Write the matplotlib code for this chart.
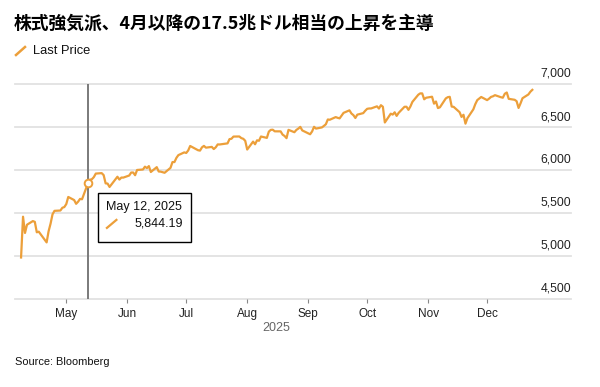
import matplotlib
matplotlib.use('Agg')
import matplotlib.pyplot as plt
import matplotlib.dates as mdates
from matplotlib.lines import Line2D
from matplotlib.patches import Rectangle
import pandas as pd

plt.rcParams['font.family'] = ['Liberation Sans', 'Noto Sans CJK JP', 'DejaVu Sans']

title = '株式強気派、4月以降の17.5兆ドル相当の上昇を主導'
series_name = 'Last Price'
source_note = 'Source: Bloomberg'
year_label = '2025'

# daily closes
dates = [
    '2025-04-08', '2025-04-09', '2025-04-10', '2025-04-11', '2025-04-14', '2025-04-15', '2025-04-16', '2025-04-17',
    '2025-04-21', '2025-04-22', '2025-04-23', '2025-04-24', '2025-04-25', '2025-04-28', '2025-04-29', '2025-04-30',
    '2025-05-01', '2025-05-02', '2025-05-05', '2025-05-06', '2025-05-07', '2025-05-08', '2025-05-09', '2025-05-12',
    '2025-05-13', '2025-05-14', '2025-05-15', '2025-05-16', '2025-05-19', '2025-05-20', '2025-05-21', '2025-05-22',
    '2025-05-23', '2025-05-27', '2025-05-28', '2025-05-29', '2025-05-30',
    '2025-06-02', '2025-06-03', '2025-06-04', '2025-06-05', '2025-06-06', '2025-06-09', '2025-06-10', '2025-06-11',
    '2025-06-12', '2025-06-13', '2025-06-16', '2025-06-17', '2025-06-18', '2025-06-20', '2025-06-23', '2025-06-24',
    '2025-06-25', '2025-06-26', '2025-06-27', '2025-06-30',
    '2025-07-01', '2025-07-02', '2025-07-03', '2025-07-07', '2025-07-08', '2025-07-09', '2025-07-10', '2025-07-11',
    '2025-07-14', '2025-07-15', '2025-07-16', '2025-07-17', '2025-07-18', '2025-07-21', '2025-07-22', '2025-07-23',
    '2025-07-24', '2025-07-25', '2025-07-28', '2025-07-29', '2025-07-30', '2025-07-31',
    '2025-08-01', '2025-08-04', '2025-08-05', '2025-08-06', '2025-08-07', '2025-08-08', '2025-08-11', '2025-08-12',
    '2025-08-13', '2025-08-14', '2025-08-15', '2025-08-18', '2025-08-19', '2025-08-20', '2025-08-21', '2025-08-22',
    '2025-08-25', '2025-08-26', '2025-08-27', '2025-08-28', '2025-08-29',
    '2025-09-02', '2025-09-03', '2025-09-04', '2025-09-05', '2025-09-08', '2025-09-09', '2025-09-10', '2025-09-11',
    '2025-09-12', '2025-09-15', '2025-09-16', '2025-09-17', '2025-09-18', '2025-09-19', '2025-09-22', '2025-09-23',
    '2025-09-24', '2025-09-25', '2025-09-26', '2025-09-29', '2025-09-30',
    '2025-10-01', '2025-10-02', '2025-10-03', '2025-10-06', '2025-10-07', '2025-10-08', '2025-10-09', '2025-10-10',
    '2025-10-13', '2025-10-14', '2025-10-15', '2025-10-16', '2025-10-17', '2025-10-20', '2025-10-21', '2025-10-22',
    '2025-10-23', '2025-10-24', '2025-10-27', '2025-10-28', '2025-10-29', '2025-10-30', '2025-10-31',
    '2025-11-03', '2025-11-04', '2025-11-05', '2025-11-06', '2025-11-07', '2025-11-10', '2025-11-11', '2025-11-12',
    '2025-11-13', '2025-11-14', '2025-11-17', '2025-11-18', '2025-11-19', '2025-11-20', '2025-11-21', '2025-11-24',
    '2025-11-25', '2025-11-26', '2025-11-28',
    '2025-12-01', '2025-12-02', '2025-12-03', '2025-12-04', '2025-12-05', '2025-12-08', '2025-12-09', '2025-12-10',
    '2025-12-11', '2025-12-12', '2025-12-15', '2025-12-16', '2025-12-17', '2025-12-18', '2025-12-19', '2025-12-22',
    '2025-12-23', '2025-12-24',
]

prices = [
    4982.77, 5456.90, 5268.05, 5363.36, 5405.97, 5396.63, 5275.70, 5282.70,
    5158.20, 5287.76, 5375.86, 5484.77, 5525.21, 5528.75, 5560.83, 5569.06,
    5604.14, 5686.67, 5650.38, 5606.91, 5631.28, 5663.94, 5659.91, 5844.19,
    5886.55, 5892.58, 5916.93, 5958.38, 5963.60, 5940.46, 5844.61, 5842.01,
    5802.82, 5921.54, 5888.55, 5912.17, 5911.69,
    5935.94, 5970.37, 5970.81, 5939.30, 6000.36, 6005.88, 6038.81, 6022.24,
    6045.26, 5976.97, 6033.11, 5982.72, 5980.87, 5967.84, 6025.17, 6092.18,
    6092.16, 6141.02, 6173.07, 6204.95,
    6198.01, 6227.42, 6279.35, 6229.98, 6225.52, 6263.26, 6280.46, 6259.75,
    6268.56, 6243.76, 6263.70, 6297.36, 6296.79, 6305.60, 6309.62, 6358.91,
    6363.35, 6388.64, 6389.77, 6370.86, 6362.90, 6339.39,
    6238.01, 6329.94, 6299.19, 6345.06, 6340.00, 6389.45, 6373.45, 6445.76,
    6466.58, 6468.54, 6449.80, 6449.15, 6411.37, 6395.78, 6370.17, 6466.91,
    6439.32, 6465.94, 6481.40, 6501.86, 6460.26,
    6415.54, 6448.26, 6502.08, 6481.50, 6495.15, 6512.61, 6532.04, 6587.47,
    6584.29, 6615.28, 6606.76, 6600.35, 6631.96, 6664.36, 6693.75, 6656.92,
    6637.97, 6604.72, 6643.70, 6661.21, 6688.46,
    6711.20, 6715.35, 6715.79, 6740.28, 6714.59, 6753.72, 6735.11, 6552.51,
    6654.72, 6644.31, 6671.06, 6629.07, 6664.01, 6735.13, 6735.35, 6699.40,
    6738.44, 6791.69, 6875.16, 6890.89, 6890.59, 6822.34, 6840.20,
    6851.97, 6771.55, 6796.29, 6720.32, 6728.80, 6832.43, 6846.61, 6850.92,
    6737.49, 6734.11, 6672.41, 6617.32, 6642.16, 6538.76, 6602.99, 6705.12,
    6765.88, 6812.61, 6849.09,
    6812.63, 6829.37, 6849.72, 6857.12, 6870.40, 6846.51, 6840.51, 6886.68,
    6901.00, 6827.41, 6816.51, 6800.26, 6721.43, 6774.76, 6834.50, 6878.49,
    6909.79, 6932.05,
]

hover_date = '2025-05-12'
y_ticks = [4500, 5000, 5500, 6000, 6500, 7000]

ORANGE = '#EC9F3A'
GRID = '#E2E2E2'
W, H = 600, 387


def px(x, y):
    """pixel position (from top-left) -> figure fraction"""
    return x / W, 1 - y / H


df = pd.DataFrame({'price': prices}, index=pd.to_datetime(dates))

fig = plt.figure(figsize=(6, 3.87), dpi=100)
ax = fig.add_axes([15 / W, 1 - 299 / H, 556 / W, 215 / H])

ax.plot(df.index, df['price'], color=ORANGE, lw=1.6, solid_joinstyle='round', zorder=3)

ax.set_xlim(pd.Timestamp('2025-04-04 22:00'), pd.Timestamp('2026-01-12 16:00'))
ax.set_ylim(y_ticks[0], y_ticks[-1])

# grid + right side labels sitting on top of the lines
for v in y_ticks:
    ax.axhline(v, color=GRID, lw=1.3, zorder=1, clip_on=False)
    ax.annotate(f'{v:,}', xy=(1, v), xycoords=('axes fraction', 'data'),
                xytext=(0, 7.2), textcoords='offset points',
                ha='right', va='center', fontsize=8.8, color='#222222')
ax.set_yticks([])

for s in ax.spines.values():
    s.set_visible(False)

ax.xaxis.set_major_locator(mdates.MonthLocator(bymonth=range(5, 13)))
ax.xaxis.set_major_formatter(mdates.DateFormatter('%b'))
ax.tick_params(axis='x', length=3, width=0.8, color='#888888', pad=3.5,
               labelsize=8.5, labelcolor='#222222')

fig.text(*px(276, 328), year_label, ha='center', va='center', fontsize=9,
         color='#666666')

# hover line + highlighted point
hd = pd.Timestamp(hover_date)
hv = df.loc[hd, 'price']
ax.axvline(hd, color='#7A7A7A', lw=1.4, zorder=2)
ax.plot([hd], [hv], 'o', ms=5.5, mfc='white', mec=ORANGE, mew=1.4, zorder=4)

# tooltip box, placed relative to the highlighted point
fig.canvas.draw()
dx, dy = ax.transData.transform((mdates.date2num(hd), hv))
to_fig = fig.transFigure.inverted()


def rel(ox, oy):
    # offsets in pixels, oy measured downward
    return to_fig.transform((dx + ox, dy - oy))


bx0, by0 = rel(10, 58.3)
bx1, by1 = rel(103.4, 9.3)
fig.add_artist(Rectangle((bx0, by0), bx1 - bx0, by1 - by0, transform=fig.transFigure,
                         facecolor='white', edgecolor='black', lw=1.0, zorder=5))
fig.text(*rel(18.4, 23.3), hd.strftime('%B %-d, %Y'), ha='left', va='center',
         fontsize=9, color='#111111', zorder=6)
l0 = rel(19, 44.5)
l1 = rel(28.5, 36.5)
fig.add_artist(Line2D([l0[0], l1[0]], [l0[1], l1[1]], color=ORANGE, lw=1.6,
                      transform=fig.transFigure, zorder=6))
fig.text(*rel(95, 40), f'{hv:,.2f}', ha='right', va='center', fontsize=9,
         color='#111111', zorder=6)

# title, legend, source
fig.text(*px(14, 23.5), title, ha='left', va='center', fontsize=12.8,
         fontweight='bold', family=['Noto Sans CJK JP', 'DejaVu Sans'])
a, b = px(16, 55), px(25, 47)
fig.add_artist(Line2D([a[0], b[0]], [a[1], b[1]], color=ORANGE, lw=1.8,
                      transform=fig.transFigure))
fig.text(*px(33, 51), series_name, ha='left', va='center', fontsize=9.3,
         color='#111111')
fig.text(*px(15, 362), source_note, ha='left', va='center', fontsize=7.9,
         color='#111111')

fig.savefig('out.png', dpi=100)
